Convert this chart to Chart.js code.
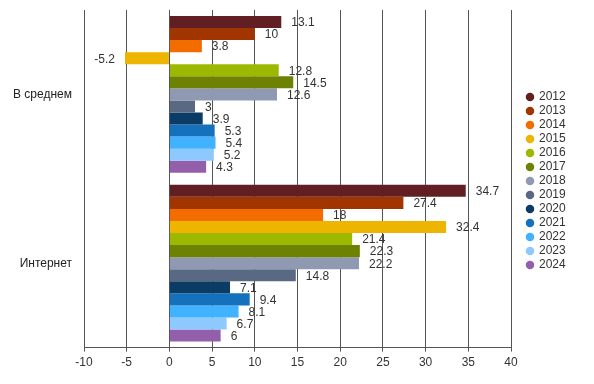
<!DOCTYPE html>
<html><head><meta charset="utf-8">
<script src="https://cdn.jsdelivr.net/npm/chart.js@4/dist/chart.umd.min.js"></script>
<style>html,body{margin:0;padding:0;background:#fff}#wrap{width:594px;height:384px}</style>
</head><body><div id="wrap"><canvas id="c" width="594" height="384"></canvas></div>
<script>
const categories = ['В среднем', 'Интернет'];
const years = ['2012','2013','2014','2015','2016','2017','2018','2019','2020','2021','2022','2023','2024'];
const v2012 = [13.1, 34.7];
const v2013 = [10, 27.4];
const v2014 = [3.8, 18];
const v2015 = [-5.2, 32.4];
const v2016 = [12.8, 21.4];
const v2017 = [14.5, 22.3];
const v2018 = [12.6, 22.2];
const v2019 = [3, 14.8];
const v2020 = [3.9, 7.1];
const v2021 = [5.3, 9.4];
const v2022 = [5.4, 8.1];
const v2023 = [5.2, 6.7];
const v2024 = [4.3, 6];
const xTicks = [-10,-5,0,5,10,15,20,25,30,35,40];
const seriesValues = [v2012,v2013,v2014,v2015,v2016,v2017,v2018,v2019,v2020,v2021,v2022,v2023,v2024];
const colors = ['#611F24','#A13500','#F36C00','#EEB500','#9DB800','#6C8200','#8F9AB2','#596883','#0B3C65','#1671BC','#40B2FF','#8DC8FF','#935FAB'];
const FONT = '"Liberation Sans", Arial, sans-serif';

const labelPlugin = {
  id: 'valLabels',
  afterDatasetsDraw(chart) {
    const ctx = chart.ctx;
    ctx.save();
    ctx.font = '12px ' + FONT;
    ctx.fillStyle = '#333';
    ctx.textBaseline = 'middle';
    chart.data.datasets.forEach((ds, i) => {
      const meta = chart.getDatasetMeta(i);
      meta.data.forEach((el, j) => {
        const v = ds.data[j];
        if (v >= 0) { ctx.textAlign = 'left'; ctx.fillText(String(v), el.x + 10, el.y + 1); }
        else { ctx.textAlign = 'right'; ctx.fillText(String(v), el.x - 10, el.y + 1); }
      });
    });
    ctx.restore();
  }
};

const legendShift = {
  id: 'legendShift',
  afterLayout(chart) {
    const lg = chart.legend;
    if (!lg) return;
    lg.left += 14; lg.right += 14;
    lg.top -= 11; lg.bottom -= 11;
  }
};

const chart = new Chart(document.getElementById('c'), {
  type: 'bar',
  data: {
    labels: categories,
    datasets: years.map((y, i) => ({
      label: y, data: seriesValues[i], backgroundColor: colors[i], borderWidth: 0,
      barPercentage: 1.0, categoryPercentage: 0.929
    }))
  },
  options: {
    indexAxis: 'y',
    responsive: false,
    animation: false,
    layout: { padding: { top: 10, left: 0, right: 0, bottom: 10 } },
    plugins: {
      legend: {
        position: 'right',
        labels: {
          usePointStyle: true, pointStyle: 'circle', boxWidth: 6, boxHeight: 6,
          padding: 2, color: '#333',
          font: { size: 12, family: FONT }
        }
      },
      tooltip: { enabled: false }
    },
    scales: {
      x: {
        min: -10, max: 40,
        afterBuildTicks: (s) => { s.ticks = xTicks.map(v => ({ value: v })); },
        grid: { color: '#555', lineWidth: 1, tickLength: 4, drawOnChartArea: true },
        border: { color: '#555' },
        ticks: { color: '#333', padding: 4, font: { size: 12, family: FONT } }
      },
      y: {
        afterFit: (s) => { s.width = 84; s.paddingTop = 0; s.paddingBottom = 0; },
        grid: { display: false, drawTicks: false },
        border: { color: '#555' },
        ticks: { color: '#222', padding: 12, font: { size: 12, family: FONT } }
      }
    }
  },
  plugins: [labelPlugin, legendShift]
});
const lg = chart.legend;
const origFit = lg.fit.bind(lg);
lg.fit = function () { origFit(); this.width = 83; };
chart.update();
</script></body></html>
